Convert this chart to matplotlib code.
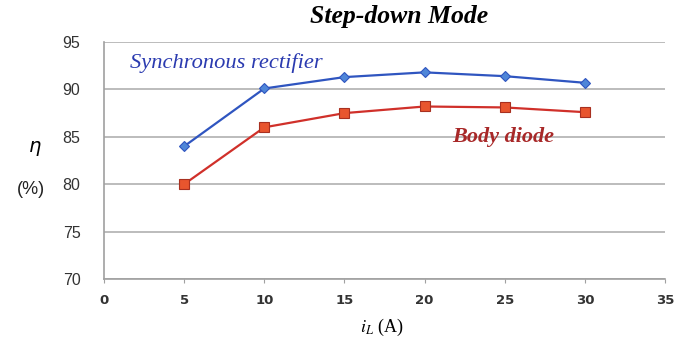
import matplotlib
matplotlib.use("Agg")
import matplotlib.pyplot as plt

# load current (A) and efficiency (%) for both rectifier types
current = [5, 10, 15, 20, 25, 30]
eff_sync = [84.0, 90.1, 91.3, 91.8, 91.4, 90.7]
eff_diode = [80.0, 86.0, 87.5, 88.2, 88.1, 87.6]
x_ticks = [0, 5, 10, 15, 20, 25, 30, 35]
y_ticks = [70, 75, 80, 85, 90, 95]

fig = plt.figure(figsize=(6.92, 3.39), dpi=100)
ax = fig.add_axes([0.1503, 0.177, 0.8107, 0.699])

ax.plot(current, eff_sync, color="#2f55c0", lw=1.6, marker="D", ms=5,
        mfc="#4f86d8", mec="#2f55c0", mew=0.8, zorder=3)
ax.plot(current, eff_diode, color="#d0302a", lw=1.6, marker="s", ms=7,
        mfc="#e8552e", mec="#a83020", mew=0.8, zorder=3)

ax.set_xlim(0, 35)
ax.set_ylim(70, 95)
ax.set_xticks(x_ticks)
ax.set_yticks(y_ticks)
ax.set_xticklabels([str(t) for t in x_ticks], fontfamily="DejaVu Sans",
                   fontsize=9.5, fontweight="bold", color="#333333")
ax.set_yticklabels([str(t) for t in y_ticks], fontfamily="Liberation Sans",
                   fontsize=11.5, color="#333333")

ax.grid(axis="y", color="#b0b0b0", lw=1.2)
ax.set_axisbelow(True)
for side in ("top", "right"):
    ax.spines[side].set_visible(False)
for side in ("left", "bottom"):
    ax.spines[side].set_color("#a0a0a0")
    ax.spines[side].set_linewidth(1.2)
ax.tick_params(axis="x", direction="out", length=3, color="#a0a0a0", pad=8)
ax.tick_params(axis="y", length=0, pad=17)

serif = "Liberation Serif"
fig.text(0.577, 0.952, "Step-down Mode", fontfamily=serif, fontstyle="italic",
         fontweight="bold", fontsize=18.5, ha="center", va="center")
ax.text(1.6, 92.8, "Synchronous rectifier", fontfamily=serif, fontstyle="italic",
        fontsize=16.2, color="#2b3bb0", va="center")
ax.text(21.7, 85.0, "Body diode", fontfamily=serif, fontstyle="italic",
        fontweight="bold", fontsize=16, color="#a82828", va="center")

fig.text(0.051, 0.563, r"$\eta$", fontsize=14, ha="center", va="center")
fig.text(0.045, 0.44, "(%)", fontfamily="Liberation Sans", fontsize=13,
         ha="center", va="center", color="#222222")
fig.text(0.552, 0.035, r"$i_L$ (A)", fontfamily=serif, fontsize=13,
         ha="center", va="center", math_fontfamily="stix")

fig.savefig("out.png", dpi=100)
